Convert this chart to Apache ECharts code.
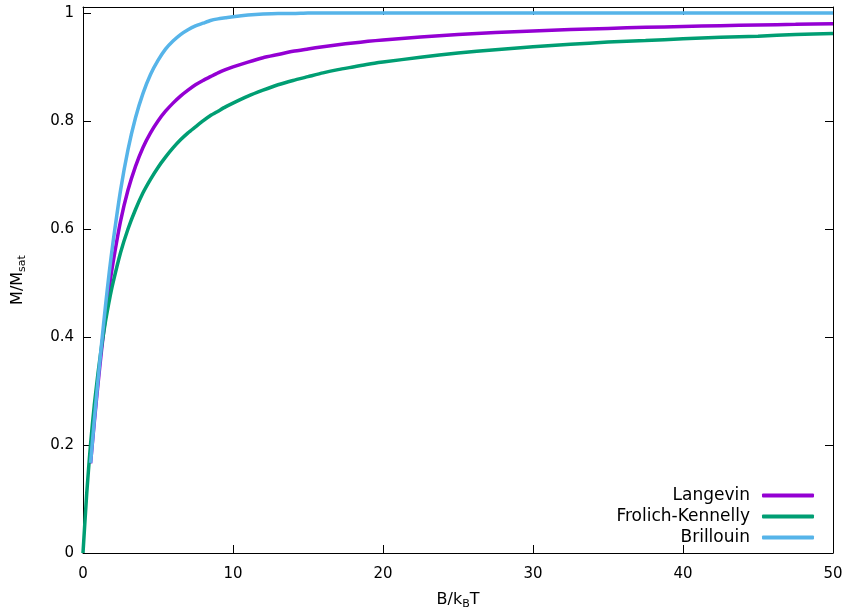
<!DOCTYPE html>
<html>
<head>
<meta charset="utf-8">
<script src="https://cdn.jsdelivr.net/npm/echarts@6/dist/echarts.min.js"></script>
<style>html,body{margin:0;padding:0;background:#fff}#c{width:848px;height:613px}</style>
</head>
<body>
<div id="c"></div>
<script>
var xTicks = [0, 10, 20, 30, 40, 50];
var yTicks = [0, 0.2, 0.4, 0.6, 0.8, 1];
var seriesNames = ['Langevin', 'Frolich-Kennelly', 'Brillouin'];

var langX = [0.505,0.75,1,1.25,1.5,1.75,2,2.5,3,3.5,4,4.5,5,5.5,6,6.5,7,7.5,8,8.5,9,9.5,10,11,12,13,14,15,16,17,18,19,20,22.5,25,27.5,30,32.5,35,37.5,40,42.5,45,47.5,50];
var langY = [0.166,0.241,0.313,0.379,0.438,0.491,0.537,0.614,0.672,0.716,0.751,0.778,0.800,0.818,0.833,0.846,0.857,0.867,0.875,0.882,0.889,0.895,0.900,0.909,0.917,0.923,0.929,0.9333,0.9375,0.9412,0.9444,0.9474,0.950,0.9556,0.960,0.9636,0.9667,0.9692,0.9714,0.9733,0.975,0.9765,0.9778,0.9789,0.980];

var fkX = [0,0.25,0.505,0.75,1,1.25,1.5,1.75,2,2.5,3,3.5,4,4.5,5,5.5,6,6.5,7,7.5,8,8.5,9,9.5,10,11,12,13,14,15,16,17,18,19,20,22.5,25,27.5,30,32.5,35,37.5,40,42.5,45,47.5,50];
var fkY = [0,0.111,0.202,0.273,0.333,0.385,0.429,0.467,0.500,0.556,0.600,0.636,0.667,0.692,0.714,0.733,0.750,0.765,0.778,0.789,0.800,0.810,0.818,0.826,0.833,0.846,0.857,0.867,0.875,0.882,0.889,0.895,0.900,0.905,0.909,0.918,0.926,0.932,0.9375,0.942,0.946,0.949,0.952,0.955,0.957,0.960,0.962];

var brX = [0.505,0.75,1,1.25,1.5,1.75,2,2.5,3,3.5,4,4.5,5,5.5,6,6.5,7,7.5,8,8.5,9,9.5,10,11,12,13,14,15,16,17,18,19,20,22.5,25,27.5,30,32.5,35,37.5,40,42.5,45,47.5,50];
var brY = [0.167,0.245,0.320,0.391,0.458,0.520,0.575,0.671,0.747,0.806,0.851,0.886,0.912,0.933,0.948,0.960,0.969,0.976,0.981,0.986,0.989,0.991,0.993,0.996,0.998,0.999,0.999,1.000,1.000,1.000,1.000,1.000,1.000,1.000,1.000,1.000,1.000,1.000,1.000,1.000,1.000,1.000,1.000,1.000,1.000];

var colors = ['#9400d3', '#009e73', '#56b4e9'];

function pairs(xs, ys) { return xs.map(function (x, i) { return [x, ys[i]]; }); }

var FONT = 'DejaVu Sans';
var chart = echarts.init(document.getElementById('c'), null, {renderer: 'canvas'});

function xAx(pos, show) {
  return {
    type: 'value', position: pos, min: xTicks[0], max: xTicks[xTicks.length - 1], interval: 10,
    axisLine: {show: true, onZero: false, lineStyle: {color: '#000', width: 1}},
    axisTick: {show: true, inside: true, length: 8, lineStyle: {color: '#000'}},
    axisLabel: {show: show, margin: 14, color: '#000', fontFamily: FONT, fontSize: 15},
    splitLine: {show: false}
  };
}
function yAx(pos, show) {
  return {
    type: 'value', position: pos, min: yTicks[0], max: 1.011, interval: 0.2,
    axisLine: {show: true, onZero: false, lineStyle: {color: '#000', width: 1}},
    axisTick: {show: true, inside: true, length: 8, lineStyle: {color: '#000'}},
    axisLabel: {show: show, margin: 9, color: '#000', fontFamily: FONT, fontSize: 15,
      formatter: function (v) { return v > 1.0001 ? '' : String(+v.toFixed(1)); }},
    splitLine: {show: false}
  };
}

var rich = {
  a: {fontFamily: FONT, fontSize: 16, color: '#000', lineHeight: 20},
  s: {fontFamily: FONT, fontSize: 11, color: '#000', lineHeight: 20, padding: [8, 0, 0, 0]}
};
var xa0 = xAx('bottom', true);
xa0.name = '{a|B/k}{s|B}{a|T}';
xa0.nameLocation = 'middle';
xa0.nameGap = 37;
xa0.nameTextStyle = {rich: rich};
var ya0 = yAx('left', true);
ya0.name = '{a|M/M}{s|sat}';
ya0.nameLocation = 'middle';
ya0.nameGap = 55;
ya0.nameTextStyle = {rich: rich};

var data = [pairs(langX, langY), pairs(fkX, fkY), pairs(brX, brY)];

chart.setOption({
  animation: false,
  backgroundColor: '#fff',
  grid: {left: 83, right: 15, top: 7, bottom: 60, containLabel: false, outerBoundsMode: 'none'},
  xAxis: [xa0, xAx('top', false)],
  yAxis: [ya0, yAx('right', false)],
  legend: {
    orient: 'vertical', right: 34, bottom: 67, align: 'right', padding: 0,
    itemWidth: 52, itemHeight: 4, itemGap: 4,
    icon: 'roundRect',
    textStyle: {fontFamily: FONT, fontSize: 17, color: '#000', lineHeight: 16, padding: [0, 7, 0, 0]},
    data: seriesNames
  },
  series: seriesNames.map(function (n, i) {
    return {
      name: n, type: 'line', data: data[i], xAxisIndex: 0, yAxisIndex: 0,
      showSymbol: false, symbol: 'none', smooth: 0.2,
      lineStyle: {color: colors[i], width: 3.5}, itemStyle: {color: colors[i]},
      clip: true
    };
  })
});
</script>
</body>
</html>
